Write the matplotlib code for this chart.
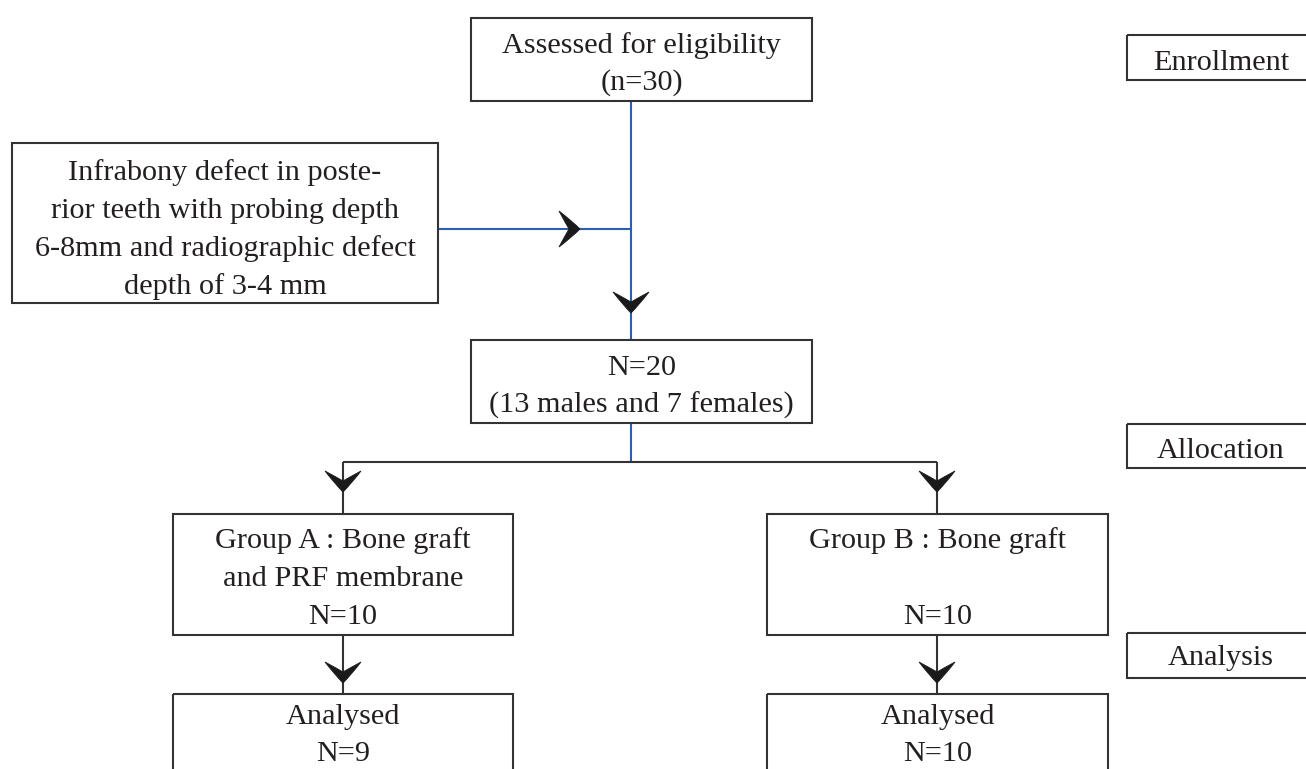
import matplotlib
matplotlib.use('Agg')
import matplotlib.pyplot as plt
from matplotlib.patches import Rectangle, PathPatch
from matplotlib.path import Path

plt.rcParams['font.family'] = ['Liberation Serif', 'DejaVu Serif']

# text of each box
enroll_lines = ['Assessed for eligibility', '(n=30)']
criteria_lines = ['Infrabony defect in poste-', 'rior teeth with probing depth',
                  '6-8mm and radiographic defect', 'depth of 3-4 mm']
pooled_lines = ['N=20', '(13 males and 7 females)']
group_a_lines = ['Group A : Bone graft', 'and PRF membrane', 'N=10']
group_b_lines = ['Group B : Bone graft', '', 'N=10']
analysed_a_lines = ['Analysed', 'N=9']
analysed_b_lines = ['Analysed', 'N=10']
stage_labels = ['Enrollment', 'Allocation', 'Analysis']

W, H = 1306, 769
TXT = '#231f20'
EDGE = '#333333'
BLUE = '#2d5fae'
FS = 21.8
LW = 1.5

fig = plt.figure(figsize=(W / 100, H / 100), dpi=100)
ax = fig.add_axes([0, 0, 1, 1])
ax.set_xlim(0, W)
ax.set_ylim(H, 0)
ax.axis('off')


def box(x0, y0, x1, y1, lines, base, step=38, cx=None):
    ax.add_patch(Rectangle((x0, y0), x1 - x0, y1 - y0, fill=False,
                           ec=EDGE, lw=LW, zorder=2))
    if cx is None:
        cx = (x0 + x1) / 2
    for i, s in enumerate(lines):
        ax.text(cx, base + i * step, s, ha='center', va='baseline',
                fontsize=FS, color=TXT, zorder=3)


def line(x, y, color=EDGE):
    ax.plot(x, y, color=color, lw=LW, solid_capstyle='butt', zorder=1)


def chevron(tip, direction):
    dx, dy = direction
    px, py = -dy, dx
    local = [(0, 0), (-8, 8), (-21, 18), (-14, 5), (-11, 0),
             (-14, -5), (-21, -18), (-8, -8), (0, 0), (0, 0)]
    verts = [(tip[0] + u * dx + v * px, tip[1] + u * dy + v * py) for u, v in local]
    codes = [Path.MOVETO] + [Path.CURVE3] * 8 + [Path.CLOSEPOLY]
    ax.add_patch(PathPatch(Path(verts, codes), fc='#1a1a1a', ec='#1a1a1a',
                           lw=0.6, zorder=4))


# boxes
box(471, 18, 812, 101, enroll_lines, 53, step=37)
box(12, 143, 438, 303, criteria_lines, 180, step=38)
box(471, 340, 812, 423, pooled_lines, 375)
box(173, 514, 513, 635, group_a_lines, 548)
box(767, 514, 1108, 635, group_b_lines, 548)
box(173, 694, 513, 800, analysed_a_lines, 724, step=37)
box(767, 694, 1108, 800, analysed_b_lines, 724, step=37)

stage_boxes = [(35, 80, 70), (424, 468, 458), (633, 678, 665)]
for lab, (y0, y1, b) in zip(stage_labels, stage_boxes):
    box(1127, y0, 1330, y1, [lab], b, cx=1221)

# blue connectors
line([631, 631], [101, 340], BLUE)
line([631, 631], [423, 462], BLUE)
line([438, 631], [229, 229], BLUE)

# black connectors
line([343, 937], [462, 462])
line([343, 343], [462, 514])
line([937, 937], [462, 514])
line([343, 343], [635, 694])
line([937, 937], [635, 694])

# arrow heads
chevron((580, 229), (1, 0))
chevron((631, 313), (0, 1))
for xa in (343, 937):
    chevron((xa, 492), (0, 1))
    chevron((xa, 683), (0, 1))

fig.savefig('out.png', dpi=100)
